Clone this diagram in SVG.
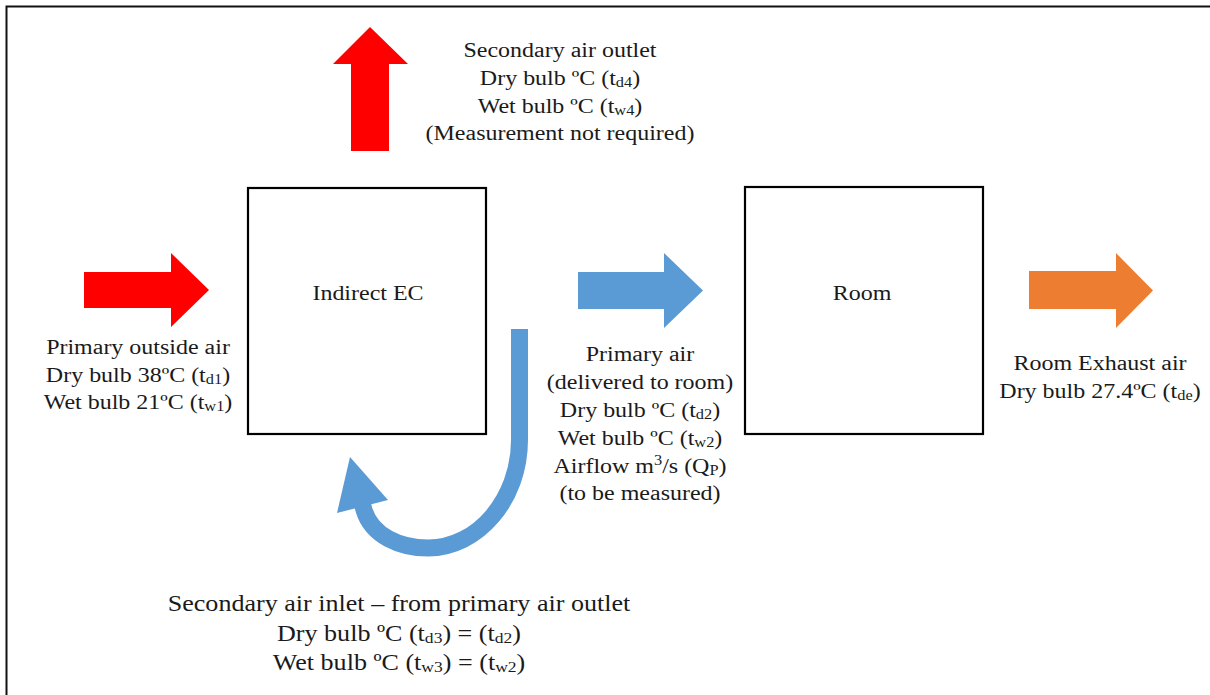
<svg xmlns="http://www.w3.org/2000/svg" width="1210" height="695" viewBox="0 0 1210 695">
<style>
  text{font-family:"Liberation Serif","Times New Roman",serif;font-size:20.5px;fill:#1a1a1a;text-anchor:middle}
  .sub{font-size:14px}
  .big{font-size:22.3px}
  .big .sub{font-size:15px}
  .box{fill:#fff;stroke:#000;stroke-width:2.2}
  .frame{fill:none;stroke:#111;stroke-width:2}
  .red{fill:#ff0000}
  .blue{fill:#5b9bd5}
  .orange{fill:#ed7d31}
</style>
<rect x="0" y="0" width="1210" height="695" fill="#fff"/>
<rect class="frame" x="6.5" y="6.5" width="1220" height="710"/>

<g id="connectors">
  <polygon id="arrow-secondary-outlet" class="red" points="351,151 351,64 333,64 370,27 408,64 389,64 389,151"/>
  <polygon id="arrow-primary-outside" class="red" points="84,272 171,272 171,253 209,290 171,327 171,308 84,308"/>
  <polygon id="arrow-primary-air" class="blue" points="578,272 664,272 664,253 703,290.5 664,328 664,309 578,309"/>
  <polygon id="arrow-exhaust" class="orange" points="1029,271 1116,271 1116,253 1153,290.5 1116,328 1116,309 1029,309"/>
  <g id="arrow-secondary-inlet">
    <path d="M519.5 329 L519.5 440 C519.5 499 478 548 428 548 C400 548 372 536 364 510 L361 499" fill="none" stroke="#5b9bd5" stroke-width="17"/>
    <polygon class="blue" points="350,457 337,513 388,500"/>
  </g>
</g>

<g id="node-indirect-ec">
  <rect class="box" x="248" y="188" width="238" height="246"/>
  <g transform="translate(368,300) scale(1.17,1)"><text x="0" y="0">Indirect EC</text></g>
</g>
<g id="node-room">
  <rect class="box" x="745" y="187" width="238" height="247"/>
  <g transform="translate(862,300) scale(1.17,1)"><text x="0" y="0">Room</text></g>
</g>

<g id="label-secondary-outlet">
  <g transform="translate(560,57) scale(1.17,1)"><text x="0" y="0">Secondary air outlet</text></g>
  <g transform="translate(560,85) scale(1.17,1)"><text x="0" y="0">Dry bulb ºC (t<tspan class="sub" dy="2">d4</tspan><tspan dy="-2">)</tspan></text></g>
  <g transform="translate(560,112.5) scale(1.17,1)"><text x="0" y="0">Wet bulb ºC (t<tspan class="sub" dy="2">w4</tspan><tspan dy="-2">)</tspan></text></g>
  <g transform="translate(560,140) scale(1.17,1)"><text x="0" y="0">(Measurement not required)</text></g>
</g>

<g id="label-primary-outside">
  <g transform="translate(138,354) scale(1.17,1)"><text x="0" y="0">Primary outside air</text></g>
  <g transform="translate(138,381.5) scale(1.17,1)"><text x="0" y="0">Dry bulb 38ºC (t<tspan class="sub" dy="2">d1</tspan><tspan dy="-2">)</tspan></text></g>
  <g transform="translate(138,409) scale(1.17,1)"><text x="0" y="0">Wet bulb 21ºC (t<tspan class="sub" dy="2">w1</tspan><tspan dy="-2">)</tspan></text></g>
</g>

<g id="label-primary-air">
  <g transform="translate(640,361) scale(1.17,1)"><text x="0" y="0">Primary air</text></g>
  <g transform="translate(640,389) scale(1.17,1)"><text x="0" y="0">(delivered to room)</text></g>
  <g transform="translate(640,417) scale(1.17,1)"><text x="0" y="0">Dry bulb ºC (t<tspan class="sub" dy="2">d2</tspan><tspan dy="-2">)</tspan></text></g>
  <g transform="translate(640,445) scale(1.17,1)"><text x="0" y="0">Wet bulb ºC (t<tspan class="sub" dy="2">w2</tspan><tspan dy="-2">)</tspan></text></g>
  <g transform="translate(640,473) scale(1.17,1)"><text x="0" y="0">Airflow m<tspan class="sub" dy="-8">3</tspan><tspan dy="8">/s (Q</tspan><tspan class="sub" dy="2">P</tspan><tspan dy="-2">)</tspan></text></g>
  <g transform="translate(640,500) scale(1.17,1)"><text x="0" y="0">(to be measured)</text></g>
</g>

<g id="label-exhaust">
  <g transform="translate(1100,370) scale(1.17,1)"><text x="0" y="0">Room Exhaust air</text></g>
  <g transform="translate(1100,398) scale(1.17,1)"><text x="0" y="0">Dry bulb 27.4ºC (t<tspan class="sub" dy="2">de</tspan><tspan dy="-2">)</tspan></text></g>
</g>

<g id="label-secondary-inlet" class="big">
  <g transform="translate(399,611) scale(1.17,1)"><text class="big" x="0" y="0">Secondary air inlet – from primary air outlet</text></g>
  <g transform="translate(399,641) scale(1.17,1)"><text class="big" x="0" y="0">Dry bulb ºC (t<tspan class="sub" dy="2">d3</tspan><tspan dy="-2">) = (t</tspan><tspan class="sub" dy="2">d2</tspan><tspan dy="-2">)</tspan></text></g>
  <g transform="translate(399,670) scale(1.17,1)"><text class="big" x="0" y="0">Wet bulb ºC (t<tspan class="sub" dy="2">w3</tspan><tspan dy="-2">) = (t</tspan><tspan class="sub" dy="2">w2</tspan><tspan dy="-2">)</tspan></text></g>
</g>
</svg>
